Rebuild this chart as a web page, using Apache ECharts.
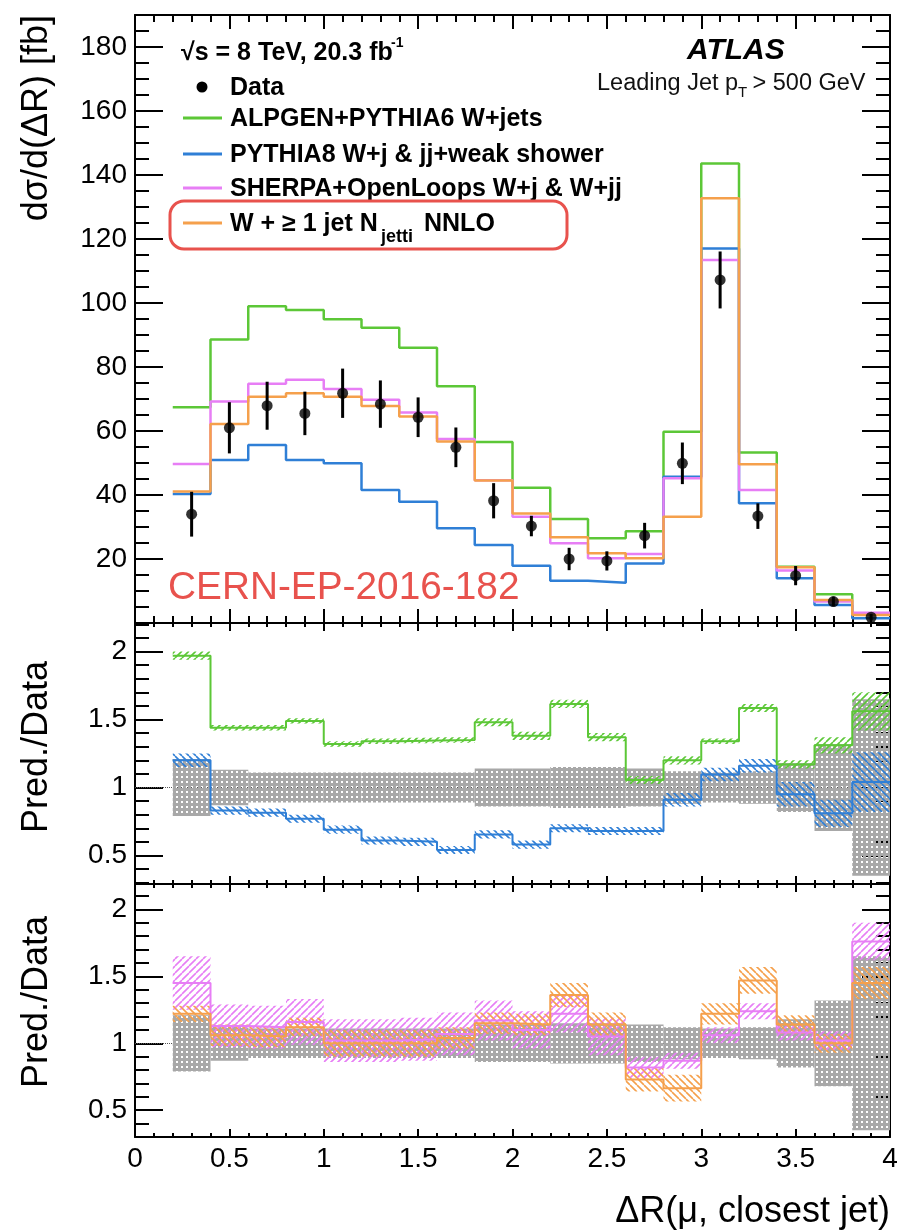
<!DOCTYPE html>
<html>
<head>
<meta charset="utf-8">
<script src="https://cdn.jsdelivr.net/npm/echarts@6.0.0/dist/echarts.min.js"></script>
<style>
html, body { margin: 0; padding: 0; background: #fff; }
#chart { width: 897px; height: 1230px; }
</style>
</head>
<body>
<div id="chart"></div>
<script>
// bin edges of dR(mu, closest jet)
var binEdges = [0.2, 0.4, 0.6, 0.8, 1.0, 1.2, 1.4, 1.6, 1.8, 2.0, 2.2, 2.4, 2.6, 2.8, 3.0, 3.2, 3.4, 3.6, 3.8, 4.0];

// measured cross section [fb] and its uncertainty
var dataVal = [34.0, 61.0, 67.9, 65.5, 71.8, 68.4, 64.3, 54.9, 38.2, 30.3, 20.0, 19.4, 27.3, 49.9, 107.2, 33.4, 14.8, 6.7, 1.8];
var dataErr = [7.0, 8.0, 7.5, 6.8, 7.7, 7.4, 6.2, 6.2, 5.5, 3.2, 3.5, 3.0, 4.0, 6.5, 8.9, 4.0, 3.0, 1.5, 1.0];

// predictions [fb]
var alpgen = [67.4, 88.6, 99.0, 97.8, 94.9, 92.3, 86.0, 74.0, 56.6, 42.3, 32.5, 26.5, 28.7, 59.8, 143.6, 53.3, 17.6, 9.0, 3.0];
var pythia8 = [40.3, 50.9, 55.6, 50.9, 49.9, 41.6, 37.9, 29.6, 24.4, 17.9, 13.2, 12.6, 18.6, 45.7, 117.0, 37.4, 14.0, 5.6, 1.5];
var sherpa = [49.7, 69.2, 74.8, 76.0, 73.1, 69.8, 65.8, 57.5, 44.6, 33.2, 24.9, 20.2, 21.6, 45.2, 113.4, 41.6, 16.4, 6.7, 3.2];
var nnlo = [41.1, 62.2, 70.7, 71.8, 70.7, 67.8, 64.5, 56.7, 44.5, 34.2, 26.8, 21.8, 20.2, 33.2, 132.7, 49.6, 17.4, 7.2, 2.5];

// Pred./Data ratios and their uncertainty bands
var dataRelErr = [0.21, 0.13, 0.11, 0.11, 0.11, 0.11, 0.11, 0.11, 0.14, 0.14, 0.15, 0.15, 0.14, 0.12, 0.11, 0.12, 0.18, 0.32, 0.65];
var alpgenRatio = [1.97, 1.44, 1.44, 1.49, 1.32, 1.34, 1.345, 1.35, 1.48, 1.38, 1.615, 1.37, 1.055, 1.20, 1.34, 1.585, 1.17, 1.31, 1.56];
var alpgenRatioErr = [0.03, 0.02, 0.02, 0.02, 0.02, 0.02, 0.02, 0.02, 0.03, 0.03, 0.03, 0.03, 0.03, 0.03, 0.02, 0.03, 0.03, 0.06, 0.14];
var pythiaRatio = [1.20, 0.83, 0.815, 0.77, 0.69, 0.61, 0.60, 0.54, 0.655, 0.58, 0.70, 0.68, 0.68, 0.91, 1.095, 1.16, 0.95, 0.81, 1.04];
var pythiaRatioErr = [0.05, 0.03, 0.03, 0.03, 0.03, 0.03, 0.03, 0.03, 0.03, 0.03, 0.03, 0.03, 0.03, 0.05, 0.05, 0.05, 0.09, 0.1, 0.22];
var sherpaRatio = [1.45, 1.13, 1.12, 1.16, 1.02, 1.02, 1.03, 1.07, 1.17, 1.10, 1.22, 1.05, 0.82, 0.87, 1.06, 1.24, 1.08, 1.02, 1.76];
var sherpaRatioErr = [0.2, 0.16, 0.16, 0.17, 0.16, 0.16, 0.16, 0.16, 0.15, 0.14, 0.14, 0.14, 0.08, 0.06, 0.06, 0.06, 0.06, 0.07, 0.14];
var nnloRatio = [1.22, 1.06, 1.05, 1.12, 1.0, 1.0, 1.0, 1.04, 1.15, 1.14, 1.36, 1.14, 0.73, 0.665, 1.22, 1.47, 1.14, 1.0, 1.45];
var nnloRatioErr = [0.06, 0.08, 0.08, 0.07, 0.1, 0.1, 0.1, 0.08, 0.08, 0.08, 0.09, 0.09, 0.09, 0.1, 0.08, 0.1, 0.07, 0.07, 0.12];

// tick labels
var xTickLabels = [0, 0.5, 1, 1.5, 2, 2.5, 3, 3.5, 4];
var yTopTickLabels = [20, 40, 60, 80, 100, 120, 140, 160, 180];
var yRatioTickLabels = [0.5, 1, 1.5, 2];

var FONT = '"Liberation Sans", Arial, Helvetica, sans-serif';
var GREEN = '#5cc737';
var BLUE = '#2f7fd6';
var MAGENTA = '#e77ef5';
var ORANGE = '#f5a04c';
var RED = '#e8524d';

function range(a, b, step) {
  var out = [];
  for (var v = a; v <= b + 1e-9; v += step) out.push(Math.round(v * 1000) / 1000);
  return out;
}

// hatch fill like ROOT's fill styles
function hatch(color, dir) {
  var s = 7;
  var c = document.createElement('canvas');
  c.width = s; c.height = s;
  var ctx = c.getContext('2d');
  ctx.strokeStyle = color;
  ctx.lineWidth = 1.6;
  ctx.beginPath();
  for (var k = -1; k <= 1; k++) {
    if (dir > 0) { ctx.moveTo(k * s, s); ctx.lineTo(k * s + s, 0); }
    else { ctx.moveTo(k * s, 0); ctx.lineTo(k * s + s, s); }
  }
  ctx.stroke();
  return { image: c, repeat: 'repeat' };
}
function greyMesh() {
  var s = 5;
  var c = document.createElement('canvas');
  c.width = s; c.height = s;
  var ctx = c.getContext('2d');
  ctx.fillStyle = '#a8a8a8';
  ctx.fillRect(0, 0, s, s);
  ctx.clearRect(1, 1, 2, 2);
  return { image: c, repeat: 'repeat' };
}

function stepData(vals) {
  var pts = vals.map(function (v, i) { return [binEdges[i], v]; });
  pts.push([binEdges[vals.length], vals[vals.length - 1]]);
  return pts;
}
function bandData(vals, errs) {
  return vals.map(function (v, i) { return [binEdges[i], binEdges[i + 1], v, errs[i]]; });
}

function stepSeries(name, vals, color, ai, width, z) {
  return {
    name: name, type: 'line', xAxisIndex: ai, yAxisIndex: ai, step: 'end',
    data: stepData(vals), symbol: 'none', showSymbol: false, silent: true, z: z,
    lineStyle: { color: color, width: width }, itemStyle: { color: color }
  };
}
function bandSeries(name, vals, errs, fill, ai, z) {
  return {
    name: name, type: 'custom', xAxisIndex: ai, yAxisIndex: ai, z: z, silent: true,
    data: bandData(vals, errs),
    encode: { x: [0, 1], y: [2] },
    renderItem: function (params, api) {
      var c = api.value(2), e = api.value(3);
      var p1 = api.coord([api.value(0), c + e]);
      var p2 = api.coord([api.value(1), c - e]);
      var cs = params.coordSys;
      var shape = echarts.graphic.clipRectByRect(
        { x: p1[0], y: p1[1], width: p2[0] - p1[0], height: p2[1] - p1[1] },
        { x: cs.x, y: cs.y, width: cs.width, height: cs.height }
      );
      return shape && { type: 'rect', shape: shape, style: { fill: fill } };
    }
  };
}

function mkAxis(g, pos, min, max, ticks, len, labels, showLine) {
  return {
    type: 'value', gridIndex: g, position: pos, min: min, max: max,
    axisLine: { show: showLine, onZero: false, lineStyle: { color: '#000', width: 2 } },
    axisTick: { show: true, inside: true, length: len, customValues: ticks, lineStyle: { color: '#000', width: 2 } },
    axisLabel: labels
      ? { show: true, customValues: labels, color: '#000', fontSize: 28, fontFamily: FONT, margin: 8 }
      : { show: false },
    splitLine: { show: false },
    minorTick: { show: false },
    axisPointer: { show: false }
  };
}

var xMinorTicks = range(0, 4, 0.1);
var panels = [
  { yMin: 0, yMax: 190, yMaj: [0].concat(yTopTickLabels), yMinor: range(0, 190, 5), yLab: yTopTickLabels, xMaj: 14, xMin: 7 },
  { yMin: 0.29, yMax: 2.21, yMaj: yRatioTickLabels, yMinor: range(0.3, 2.2, 0.1), yLab: yRatioTickLabels, xMaj: 8, xMin: 4 },
  { yMin: 0.3, yMax: 2.19, yMaj: yRatioTickLabels, yMinor: range(0.3, 2.2, 0.1), yLab: yRatioTickLabels, xMaj: 8, xMin: 4 }
];
var xAxes = [];
var yAxes = [];
panels.forEach(function (p, g) {
  xAxes.push(mkAxis(g, 'bottom', 0, 4, xTickLabels, p.xMaj, g === 2 ? xTickLabels : null, true));
  xAxes.push(mkAxis(g, 'bottom', 0, 4, xMinorTicks, p.xMin, null, false));
  xAxes.push(mkAxis(g, 'top', 0, 4, xTickLabels, p.xMaj, null, true));
  xAxes.push(mkAxis(g, 'top', 0, 4, xMinorTicks, p.xMin, null, false));
  yAxes.push(mkAxis(g, 'left', p.yMin, p.yMax, p.yMaj, 28, p.yLab, true));
  yAxes.push(mkAxis(g, 'left', p.yMin, p.yMax, p.yMinor, 14, null, false));
  yAxes.push(mkAxis(g, 'right', p.yMin, p.yMax, p.yMaj, 28, null, true));
  yAxes.push(mkAxis(g, 'right', p.yMin, p.yMax, p.yMinor, 14, null, false));
});

var binCenters = dataVal.map(function (v, i) { return (binEdges[i] + binEdges[i + 1]) / 2; });
var ones = dataRelErr.map(function () { return 1; });

var unityLine = {
  silent: true, symbol: ['none', 'none'], z: 1,
  label: { show: false },
  lineStyle: { color: '#555', type: 'dotted', width: 1 },
  data: [{ yAxis: 1 }]
};

function txt(text, x, y, size, opts) {
  opts = opts || {};
  return {
    type: 'text', x: x, y: y, rotation: opts.rot || 0, silent: true, z: 100,
    style: {
      text: text, fill: opts.color || '#000',
      fontSize: size, fontFamily: FONT,
      fontWeight: opts.weight || 'normal', fontStyle: opts.style || 'normal',
      align: opts.align || 'left', textAlign: opts.align || 'left',
      verticalAlign: 'middle', textVerticalAlign: 'middle'
    }
  };
}
function legLine(y, color) {
  return { type: 'line', silent: true, z: 100, shape: { x1: 183, y1: y, x2: 222, y2: y }, style: { stroke: color, lineWidth: 3 } };
}

var graphics = [
  txt('dσ/d(ΔR) [fb]', 37, 15, 36, { rot: Math.PI / 2, align: 'right' }),
  txt('Pred./Data', 37, 747, 36, { rot: Math.PI / 2, align: 'center' }),
  txt('Pred./Data', 37, 1002, 36, { rot: Math.PI / 2, align: 'center' }),
  txt('ΔR(μ, closest jet)', 890, 1212, 36, { align: 'right' }),
  txt('√s = 8 TeV, 20.3 fb', 181, 53, 25, { weight: 'bold' }),
  txt('-1', 391, 43, 14, { weight: 'bold' }),
  txt('ATLAS', 687, 51, 30, { weight: 'bold', style: 'italic' }),
  txt('Leading Jet p', 597, 84, 23.5, { color: '#111' }),
  txt('T', 738, 93, 15, { color: '#111' }),
  txt(' > 500 GeV', 746, 84, 23.5, { color: '#111' }),
  { type: 'circle', silent: true, z: 100, shape: { cx: 202, cy: 87, r: 5.5 }, style: { fill: '#000' } },
  txt('Data', 230, 88, 25, { weight: 'bold' }),
  legLine(118, GREEN),
  txt('ALPGEN+PYTHIA6 W+jets', 230, 119, 25, { weight: 'bold' }),
  legLine(154, BLUE),
  txt('PYTHIA8 W+j & jj+weak shower', 230, 155, 25, { weight: 'bold' }),
  legLine(188, MAGENTA),
  txt('SHERPA+OpenLoops W+j & W+jj', 230, 189, 25, { weight: 'bold' }),
  legLine(223, ORANGE),
  txt('W + ≥ 1 jet N', 230, 224, 25, { weight: 'bold' }),
  txt('jetti', 381, 237, 18, { weight: 'bold' }),
  txt('NNLO', 424, 224, 25, { weight: 'bold' }),
  {
    type: 'rect', silent: true, z: 100,
    shape: { x: 170, y: 201, width: 397, height: 48, r: 14 },
    style: { fill: 'none', stroke: RED, lineWidth: 3 }
  },
  txt('CERN-EP-2016-182', 168, 588, 38.8, { color: RED })
];

var series = [
  // top panel
  stepSeries('ALPGEN+PYTHIA6 W+jets', alpgen, GREEN, 0, 2.5, 2),
  stepSeries('PYTHIA8 W+j & jj+weak shower', pythia8, BLUE, 0, 2.5, 2),
  stepSeries('SHERPA+OpenLoops W+j & W+jj', sherpa, MAGENTA, 0, 2.5, 2),
  stepSeries('W + ≥ 1 jet Njetti NNLO', nnlo, ORANGE, 0, 2.5, 2),
  {
    name: 'Data error', type: 'custom', xAxisIndex: 0, yAxisIndex: 0, z: 3, silent: true,
    data: dataVal.map(function (v, i) { return [binCenters[i], v, dataErr[i]]; }),
    encode: { x: 0, y: 1 },
    renderItem: function (params, api) {
      var x = api.value(0), y = api.value(1), e = api.value(2);
      var p1 = api.coord([x, y - e]);
      var p2 = api.coord([x, y + e]);
      return { type: 'line', shape: { x1: p1[0], y1: p1[1], x2: p2[0], y2: p2[1] }, style: { stroke: '#000', lineWidth: 3 } };
    }
  },
  {
    name: 'Data', type: 'scatter', xAxisIndex: 0, yAxisIndex: 0, z: 4, silent: true,
    symbol: 'circle', symbolSize: 11, itemStyle: { color: '#000' },
    data: dataVal.map(function (v, i) { return [binCenters[i], v]; })
  },
  // middle ratio panel
  bandSeries('Data unc. 1', ones, dataRelErr, greyMesh(), 4, 1),
  bandSeries('PYTHIA8 unc.', pythiaRatio, pythiaRatioErr, hatch(BLUE, -1), 4, 2),
  bandSeries('ALPGEN unc.', alpgenRatio, alpgenRatioErr, hatch(GREEN, 1), 4, 2),
  Object.assign(stepSeries('PYTHIA8 ratio', pythiaRatio, BLUE, 4, 2, 3), { markLine: unityLine }),
  stepSeries('ALPGEN ratio', alpgenRatio, GREEN, 4, 2, 3),
  // bottom ratio panel
  bandSeries('Data unc. 2', ones, dataRelErr, greyMesh(), 8, 1),
  bandSeries('SHERPA unc.', sherpaRatio, sherpaRatioErr, hatch(MAGENTA, 1), 8, 2),
  bandSeries('NNLO unc.', nnloRatio, nnloRatioErr, hatch(ORANGE, -1), 8, 2),
  Object.assign(stepSeries('SHERPA ratio', sherpaRatio, MAGENTA, 8, 2, 3), { markLine: unityLine }),
  stepSeries('NNLO ratio', nnloRatio, ORANGE, 8, 2, 3)
];

var option = {
  animation: false,
  backgroundColor: '#fff',
  grid: [
    { left: 135, right: 7, top: 15, height: 608, outerBoundsMode: 'none' },
    { left: 135, right: 7, top: 623, height: 261, outerBoundsMode: 'none' },
    { left: 135, right: 7, top: 884, height: 253, outerBoundsMode: 'none' }
  ],
  xAxis: xAxes,
  yAxis: yAxes,
  series: series,
  graphic: graphics
};

var chart = echarts.init(document.getElementById('chart'));
chart.setOption(option, true);
window.addEventListener('resize', function () {
  chart.resize();
});
</script>
</body>
</html>
